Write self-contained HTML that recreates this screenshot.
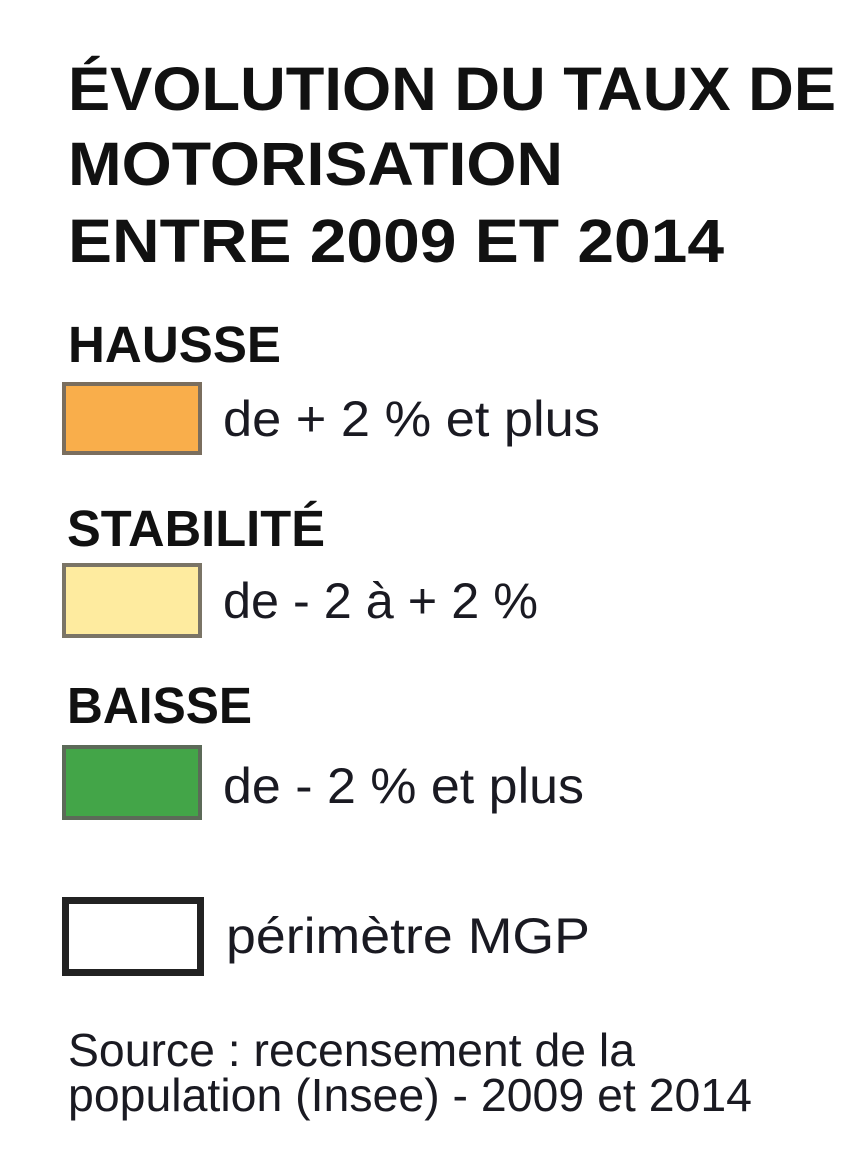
<!DOCTYPE html>
<html><head><meta charset="utf-8"><style>
html,body{margin:0;padding:0;background:#fff;}
svg{display:block;font-family:"Liberation Sans",sans-serif;}
</style></head><body>
<svg width="862" height="1160" viewBox="0 0 862 1160">
<rect width="862" height="1160" fill="#fff"/>
<g fill="#111" font-weight="bold" font-size="61">
<text x="68" y="110" textLength="768" lengthAdjust="spacingAndGlyphs">ÉVOLUTION DU TAUX DE</text>
<text x="68" y="185" textLength="495" lengthAdjust="spacingAndGlyphs">MOTORISATION</text>
<text x="68" y="262" textLength="656" lengthAdjust="spacingAndGlyphs">ENTRE 2009 ET 2014</text>
</g>
<g fill="#111" font-weight="bold" font-size="51">
<text x="68" y="362" textLength="213" lengthAdjust="spacingAndGlyphs">HAUSSE</text>
<text x="67" y="546" textLength="258" lengthAdjust="spacingAndGlyphs">STABILITÉ</text>
<text x="67" y="723" textLength="185" lengthAdjust="spacingAndGlyphs">BAISSE</text>
</g>
<rect x="64" y="384" width="136" height="69" fill="#F9AE4B" stroke="#7a6e5e" stroke-width="4"/>
<rect x="64" y="565" width="136" height="71" fill="#FEEB9F" stroke="#7a7466" stroke-width="4"/>
<rect x="64" y="747" width="136" height="71" fill="#43A548" stroke="#5c6a58" stroke-width="4"/>
<rect x="65.5" y="900.5" width="135" height="72" fill="#fff" stroke="#222" stroke-width="7"/>
<g fill="#1a1a22" font-size="50">
<text x="223" y="436" textLength="377" lengthAdjust="spacingAndGlyphs">de + 2 % et plus</text>
<text x="223" y="618" textLength="315" lengthAdjust="spacingAndGlyphs">de - 2 à + 2 %</text>
<text x="223" y="803" textLength="361" lengthAdjust="spacingAndGlyphs">de - 2 % et plus</text>
<text x="226" y="953" textLength="364" lengthAdjust="spacingAndGlyphs">périmètre MGP</text>
</g>
<g fill="#1a1a22" font-size="46">
<text x="68" y="1066" textLength="567" lengthAdjust="spacingAndGlyphs">Source : recensement de la</text>
<text x="68" y="1111" textLength="684" lengthAdjust="spacingAndGlyphs">population (Insee) - 2009 et 2014</text>
</g>
</svg>
</body></html>
